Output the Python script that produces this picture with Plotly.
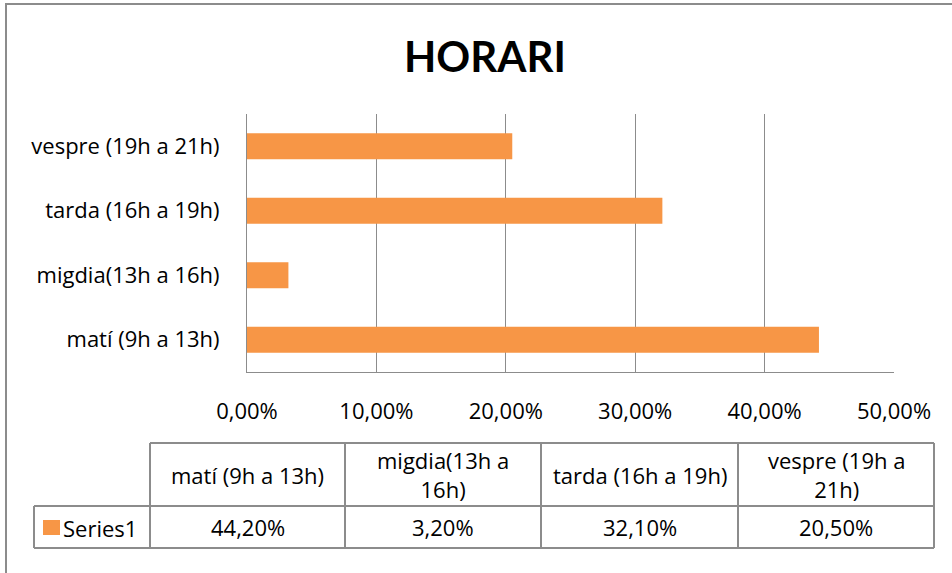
import plotly.graph_objects as go

# ---- data ----
categories = ["matí (9h a 13h)", "migdia(13h a 16h)", "tarda (16h a 19h)", "vespre (19h a 21h)"]
table_headers = ["matí (9h a 13h)", "migdia(13h a<br>16h)", "tarda (16h a 19h)", "vespre (19h a<br>21h)"]
series_name = "Series1"
values = [0.442, 0.032, 0.321, 0.205]
x_ticks = [0, 0.1, 0.2, 0.3, 0.4, 0.5]

W, H = 952, 573
L, R, T, B = 247, 58, 114, 201
PX0, PX1 = L, W - R
PY0, PY1 = T, H - B

def px(x):
    return (x - PX0) / (PX1 - PX0)

def py(y):
    return (PY1 - y) / (PY1 - PY0)

ORANGE = "#F79646"
GRID = "#8c8c8c"
FONT = "Open Sans, Noto Sans, sans-serif"
TFONT = "Lato, Open Sans, sans-serif"
FS = 22

fig = go.Figure()
fig.add_trace(go.Bar(
    y=categories, x=values, orientation="h",
    marker=dict(color=ORANGE, line=dict(width=0)),
    width=0.4, name=series_name, showlegend=False,
))

fig.update_layout(
    width=W, height=H,
    margin=dict(l=L, r=R, t=T, b=B),
    paper_bgcolor="white", plot_bgcolor="white",
    separators=",.",
    font=dict(family=FONT, size=FS, color="black"),
    xaxis=dict(range=[0, 0.5], tickvals=x_ticks, tickformat=".2%",
               showgrid=True, gridcolor=GRID, gridwidth=1,
               showline=True, linecolor=GRID, linewidth=1,
               zeroline=False, ticks="outside", ticklen=20,
               tickcolor="rgba(0,0,0,0)", tickfont=dict(size=FS)),
    yaxis=dict(categoryorder="array", categoryarray=categories,
               showline=True, linecolor=GRID, linewidth=1,
               showgrid=False, zeroline=False, ticks="outside", ticklen=22,
               tickcolor="rgba(0,0,0,0)", tickfont=dict(size=FS)),
)

shapes = []
annotations = []

# chart border
shapes.append(dict(type="rect", xref="paper", yref="paper",
                   x0=px(6), x1=px(960), y0=py(4), y1=py(580),
                   line=dict(color="#8c8c8c", width=2), layer="below"))

# title
annotations.append(dict(text="<b>HORARI</b>", xref="paper", yref="paper",
                        x=px(485), y=py(56), xanchor="center", yanchor="middle",
                        showarrow=False, font=dict(size=42, family=TFONT, color="black")))

# data table
col_edges = [150, 345, 541, 738, 934]
y_top, y_mid, y_bot = 443, 506, 548
left_edge = 34
line = dict(color=GRID, width=2)
shapes.append(dict(type="line", xref="paper", yref="paper", x0=px(col_edges[0]), x1=px(col_edges[-1]),
                   y0=py(y_top), y1=py(y_top), line=line))
shapes.append(dict(type="line", xref="paper", yref="paper", x0=px(left_edge), x1=px(col_edges[-1]),
                   y0=py(y_mid), y1=py(y_mid), line=line))
shapes.append(dict(type="line", xref="paper", yref="paper", x0=px(left_edge), x1=px(col_edges[-1]),
                   y0=py(y_bot), y1=py(y_bot), line=line))
for xe in col_edges:
    shapes.append(dict(type="line", xref="paper", yref="paper", x0=px(xe), x1=px(xe),
                       y0=py(y_top), y1=py(y_bot), line=line))
shapes.append(dict(type="line", xref="paper", yref="paper", x0=px(left_edge), x1=px(left_edge),
                   y0=py(y_mid), y1=py(y_bot), line=line))

for i, (hdr, v) in enumerate(zip(table_headers, values)):
    cx = (col_edges[i] + col_edges[i + 1]) / 2
    annotations.append(dict(text=hdr, xref="paper", yref="paper", x=px(cx), y=py((y_top + y_mid) / 2),
                            xanchor="center", yanchor="middle", showarrow=False,
                            font=dict(size=FS, family=FONT, color="black")))
    txt = f"{v * 100:.2f}".replace(".", ",") + "%"
    annotations.append(dict(text=txt, xref="paper", yref="paper", x=px(cx), y=py((y_mid + y_bot) / 2),
                            xanchor="center", yanchor="middle", showarrow=False,
                            font=dict(size=FS, family=FONT, color="black")))

# legend key in table
shapes.append(dict(type="rect", xref="paper", yref="paper", x0=px(43), x1=px(60),
                   y0=py(535), y1=py(520), fillcolor=ORANGE, line=dict(width=0)))
annotations.append(dict(text=series_name, xref="paper", yref="paper", x=px(61), y=py(528),
                        xanchor="left", yanchor="middle", showarrow=False,
                        font=dict(size=FS, family=FONT, color="black")))

fig.update_layout(shapes=shapes, annotations=annotations)
fig.write_html("out.html", config={"displayModeBar": False},
               post_script="document.body.style.margin='0';")
